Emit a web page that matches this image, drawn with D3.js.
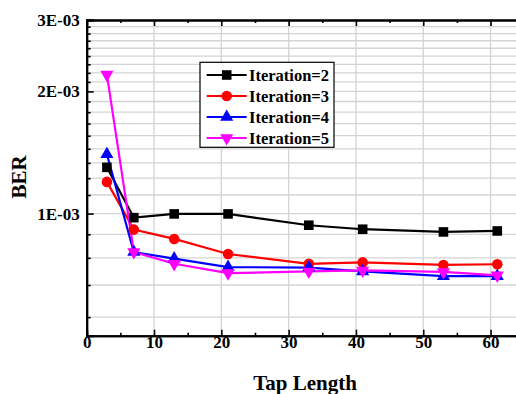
<!DOCTYPE html>
<html>
<head>
<meta charset="utf-8">
<script src="https://cdn.jsdelivr.net/npm/d3@7"></script>
<style>
  html, body { margin: 0; padding: 0; background: #fff; }
  svg { display: block; }
</style>
</head>
<body>
<div id="chart"></div>
<script>
// tap lengths
const tapLength = [3, 7, 13, 21, 33, 41, 53, 61];
// BER per iteration count
const iter2 = [1.30e-3, 0.977e-3, 0.998e-3, 0.998e-3, 0.936e-3, 0.915e-3, 0.901e-3, 0.906e-3];
const iter3 = [1.197e-3, 0.913e-3, 0.866e-3, 0.795e-3, 0.752e-3, 0.758e-3, 0.747e-3, 0.750e-3];
const iter4 = [1.40e-3, 0.804e-3, 0.774e-3, 0.738e-3, 0.736e-3, 0.720e-3, 0.701e-3, 0.701e-3];
const iter5 = [2.20e-3, 0.804e-3, 0.752e-3, 0.713e-3, 0.720e-3, 0.724e-3, 0.718e-3, 0.704e-3];
const seriesNames = ["Iteration=2", "Iteration=3", "Iteration=4", "Iteration=5"];

const xTicks = [0, 10, 20, 30, 40, 50, 60];
const xMinorTicks = [5, 15, 25, 35, 45, 55];
const yTicks = [1e-3, 2e-3, 3e-3];
// minor ticks every 1/9 of 1E-03
const yMinorTicks = d3.range(5, 28).map(k => k * 1e-3 / 9);

const W = 516, H = 394;
const plotL = 86.7, plotR = 524.2, plotT = 20, plotB = 335.7;
const FONT = "'Liberation Serif'";

const svg = d3.select("#chart").append("svg")
    .attr("width", W)
    .attr("height", H);

const x = d3.scaleLinear().domain([0, 65]).range([plotL, plotR]);
const y = d3.scaleLog().domain([5e-4, 3e-3]).range([plotB, plotT]);

// grid
const grid = svg.append("g").attr("stroke", "#d4d4d4").attr("stroke-width", 1.3);
grid.selectAll("line.h").data(yMinorTicks).enter().append("line")
    .attr("x1", plotL).attr("x2", plotR)
    .attr("y1", d => y(d)).attr("y2", d => y(d));
grid.selectAll("line.v").data(xTicks.slice(1)).enter().append("line")
    .attr("y1", plotT).attr("y2", plotB)
    .attr("x1", d => x(d)).attr("x2", d => x(d));

// axes
const fontSize = "17px";
svg.append("g")
    .attr("transform", `translate(0,${plotB})`)
    .call(d3.axisBottom(x).tickValues(xTicks).tickSize(-6).tickPadding(0).tickFormat(d3.format("d")));
svg.append("g")
    .attr("transform", `translate(0,${plotB})`)
    .call(d3.axisBottom(x).tickValues(xMinorTicks).tickSize(-3).tickFormat(""));
svg.append("g")
    .attr("transform", `translate(0,${plotT})`)
    .call(d3.axisTop(x).tickValues(xTicks).tickSize(-6).tickFormat(""));
svg.append("g")
    .attr("transform", `translate(0,${plotT})`)
    .call(d3.axisTop(x).tickValues(xMinorTicks).tickSize(-3).tickFormat(""));

svg.append("g")
    .attr("transform", `translate(${plotL},0)`)
    .call(d3.axisLeft(y).tickValues(yTicks).tickSize(-7).tickPadding(7)
        .tickFormat(d => Math.round(d * 1000) + "E-03"));
svg.append("g")
    .attr("transform", `translate(${plotL},0)`)
    .call(d3.axisLeft(y).tickValues(yMinorTicks.filter(v => !yTicks.some(t => Math.abs(t - v) < 1e-9))).tickSize(-4).tickFormat(""));

svg.selectAll(".domain").attr("stroke", "#000").attr("stroke-width", 2);
svg.selectAll(".tick line").attr("stroke", "#000").attr("stroke-width", 1.6);
svg.selectAll(".tick text")
    .attr("fill", "#000")
    .style("font-family", FONT)
    .style("font-weight", "bold")
    .style("font-size", fontSize);

// axis titles
svg.append("text")
    .attr("x", 305).attr("y", 390)
    .attr("text-anchor", "middle")
    .style("font-family", FONT).style("font-weight", "bold")
    .style("font-size", "21px")
    .text("Tap Length");
svg.append("text")
    .attr("transform", "translate(26,177)rotate(-90)")
    .attr("text-anchor", "middle")
    .style("font-family", FONT).style("font-weight", "bold")
    .style("font-size", "21px")
    .text("BER");

// series
const colors = ["#000000", "#ff0000", "#0000ff", "#ff00ff"];
const shapes = [d3.symbolSquare, d3.symbolCircle, d3.symbolTriangle, d3.symbolTriangle];
const sizes = [92, 88, 75, 75];
const rotations = [0, 0, 0, 180];
const allSeries = [iter2, iter3, iter4, iter5];

const line = d3.line().x((d, i) => x(tapLength[i])).y(d => y(d));

allSeries.forEach((vals, s) => {
    svg.append("path")
        .attr("d", line(vals))
        .attr("fill", "none")
        .attr("stroke", colors[s])
        .attr("stroke-width", 2.2);
});
allSeries.forEach((vals, s) => {
    svg.selectAll(null).data(vals).enter().append("path")
        .attr("d", d3.symbol().type(shapes[s]).size(sizes[s]))
        .attr("transform", (d, i) => `translate(${x(tapLength[i])},${y(d)})rotate(${rotations[s]})`)
        .attr("fill", colors[s]);
});

// legend
const legend = svg.append("g");
legend.append("rect")
    .attr("x", 200).attr("y", 62.3)
    .attr("width", 134).attr("height", 85)
    .attr("fill", "#fff")
    .attr("stroke", "#000")
    .attr("stroke-width", 1.2);
seriesNames.forEach((name, s) => {
    const cy = 75 + s * 21;
    legend.append("line")
        .attr("x1", 206.7).attr("x2", 246.7)
        .attr("y1", cy).attr("y2", cy)
        .attr("stroke", colors[s]).attr("stroke-width", 2.2);
    legend.append("path")
        .attr("d", d3.symbol().type(shapes[s]).size(sizes[s]))
        .attr("transform", `translate(226.7,${cy})rotate(${rotations[s]})`)
        .attr("fill", colors[s]);
    legend.append("text")
        .attr("x", 249).attr("y", cy)
        .attr("dy", "0.35em")
        .style("font-family", FONT).style("font-weight", "bold")
        .style("font-size", "16.5px")
        .text(name);
});
</script>
</body>
</html>
